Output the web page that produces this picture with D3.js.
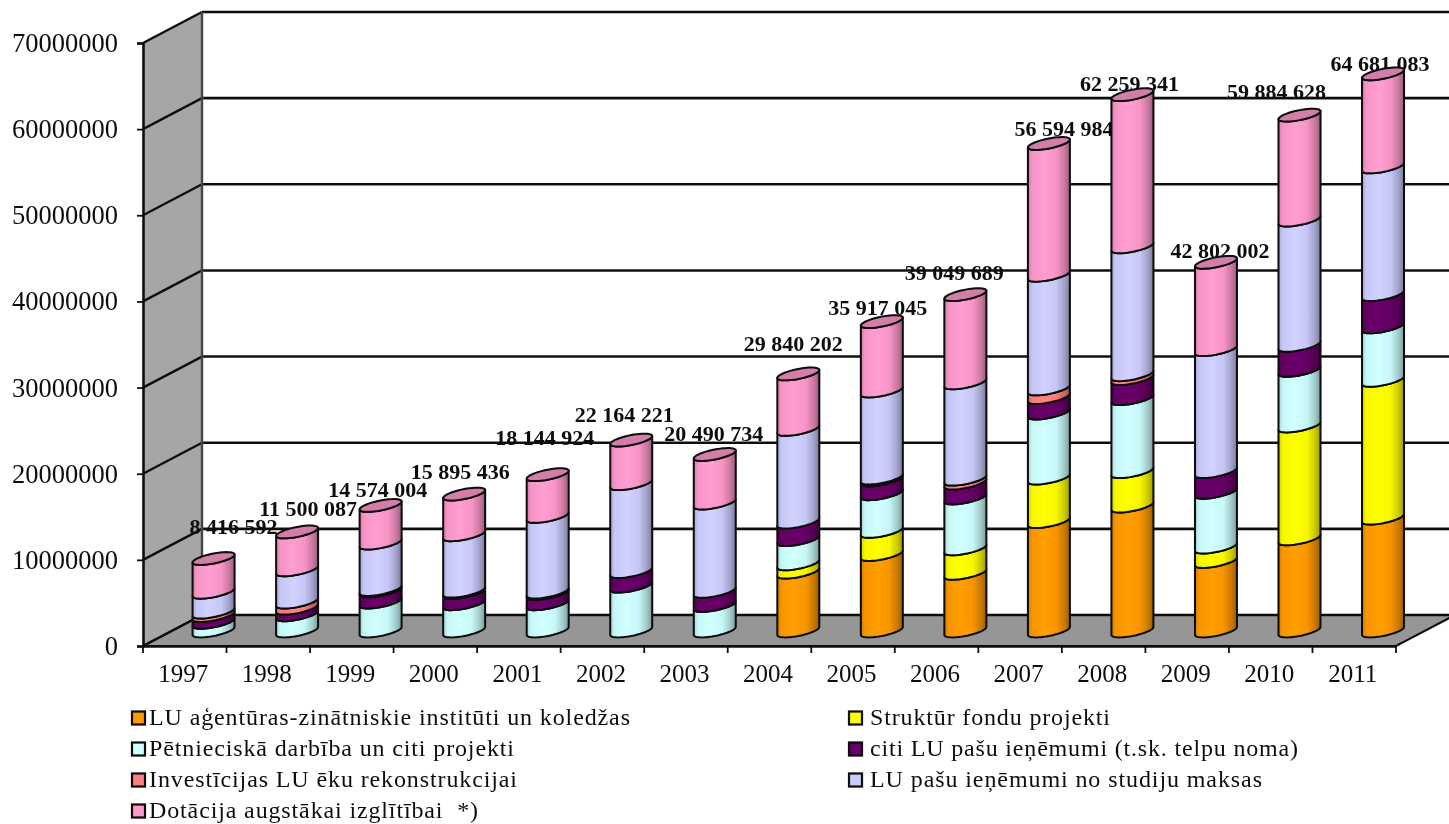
<!DOCTYPE html>
<html><head><meta charset="utf-8">
<script src="https://cdn.jsdelivr.net/npm/d3@7/dist/d3.min.js"></script>
<style>html,body{margin:0;padding:0;background:#fff;overflow:hidden}svg{display:block}text{font-family:"Liberation Serif","Times New Roman",serif;fill:#111}</style>
</head><body><div id="chart"></div>
<script>
const years=["1997","1998","1999","2000","2001","2002","2003","2004","2005","2006","2007","2008","2009","2010","2011"];
const seriesNames=["LU aģentūras-zinātniskie institūti un koledžas","Struktūr fondu projekti","Pētnieciskā darbība un citi projekti","citi LU pašu ieņēmumi (t.sk. telpu noma)","Investīcijas LU ēku rekonstrukcijai","LU pašu ieņēmumi no studiju maksas","Dotācija augstākai izglītībai  *)"];
const seriesColors=["#ff9900","#ffff00","#ccffff","#660066","#ff8080","#ccccff","#ff99cc"];
const agentures=[0,0,0,0,0,0,0,6830000,8880000,6700000,12700000,14500000,8070000,10700000,13100000];
const struktur=[0,0,0,0,0,0,0,970000,2680000,2840000,5050000,4000000,1670000,13100000,16000000];
const petnieciska=[1000000,1880000,3350000,3160000,3160000,5200000,2960000,2800000,4370000,5900000,7550000,8470000,6360000,6450000,6200000];
const citi=[800000,770000,1300000,1300000,1200000,1700000,1640000,2040000,1600000,1730000,1800000,2330000,2400000,2910000,3750000];
const investicijas=[400000,700000,170000,160000,160000,0,0,0,230000,450000,1000000,450000,0,0,0];
const studiju=[2300000,3750000,5380000,6550000,8780000,10200000,10250000,10760000,10100000,11180000,13200000,14850000,14160000,14540000,14820000];
const dotacija=[3916592,4400087,4374004,4725436,4844924,5064221,5640734,6440202,8057045,10249689,15294984,17659341,10142002,12184628,10811083];
const totals=[8416592,11500087,14574004,15895436,18144924,22164221,20490734,29840202,35917045,39049689,56594984,62259341,42802002,59884628,64681083];
const yTicks=[0,10000000,20000000,30000000,40000000,50000000,60000000,70000000];
const valueRows=[agentures,struktur,petnieciska,citi,investicijas,studiju,dotacija];

// layout only: hand placement of total labels relative to the bar top
const labelDx=[20,11,-3,-4,-3,-7,-1,-5,-4,-11,15,-3,4,-23,-3];
const labelDy=[-31,-23,-15,-22,-37,-25,-20,-30,-14,-22,-14,-11,-11,-23,-10];

const W=1449,H=824,depthX=59,depthY=31,barW=42,tiltY=4,bulgeY=5;
const svg=d3.select("#chart").append("svg").attr("width",W).attr("height",H).attr("viewBox",`0 0 ${W} ${H}`);
const x=d3.scaleBand().domain(years).range([143,1396]);
const y=d3.scaleLinear().domain([0,70000000]).range([646,43]);
const barCx=d=>x(d)+x.bandwidth()/2+28.8;
const barY=v=>y(v)-15;

// gradients
const defs=svg.append("defs");
seriesColors.forEach((c,i)=>{
  const g=defs.append("linearGradient").attr("id","g"+i);
  const base=d3.rgb(c);
  const shade=f=>d3.rgb(Math.min(255,base.r*f),Math.min(255,base.g*f),Math.min(255,base.b*f)).formatHex();
  [[0,.82],[.1,.97],[.4,1.03],[.68,.97],[.88,.78],[1,.6]].forEach(([o,f])=>g.append("stop").attr("offset",o).attr("stop-color",shade(f)));
});
const blur=defs.append("filter").attr("id","soft").attr("filterUnits","userSpaceOnUse").attr("x",0).attr("y",0).attr("width",W).attr("height",H);
blur.append("feGaussianBlur").attr("stdDeviation",0.6);
const root=svg.append("g").attr("filter","url(#soft)");

// walls + floor
const yBack=v=>y(v)-depthY;
root.append("path").attr("fill","#a6a6a6").attr("d",`M143,${y(0)}L143,${y(70000000)}L${143+depthX},${yBack(70000000)}L${143+depthX},${yBack(0)}Z`);
root.append("path").attr("fill","#969696").attr("stroke","#111").attr("stroke-width",2.2)
  .attr("d",`M143,${y(0)}L${143+depthX},${yBack(0)}L${1396+depthX},${yBack(0)}L1396,${y(0)}Z`);

// total labels sit behind gridlines and bars
root.append("g").selectAll("text").data(years).join("text")
  .attr("x",(d,i)=>barCx(d)+labelDx[i]).attr("y",(d,i)=>barY(totals[i])+labelDy[i]+7)
  .attr("text-anchor","middle").attr("font-size",22).attr("font-weight","bold")
  .text((d,i)=>d3.format(",")(totals[i]).replace(/,/g," "));

// gridlines on back wall and side wall
const grid=root.append("g");
grid.selectAll("line.b").data(yTicks).join("line").attr("class","b")
  .attr("x1",143+depthX).attr("x2",W+10).attr("y1",d=>yBack(d)).attr("y2",d=>yBack(d))
  .attr("stroke","#111").attr("stroke-width",2.6);
grid.selectAll("line.s").data(yTicks).join("line").attr("class","s")
  .attr("x1",143).attr("x2",143+depthX).attr("y1",d=>y(d)).attr("y2",d=>yBack(d))
  .attr("stroke","#111").attr("stroke-width",2.4);
grid.append("line").attr("x1",143+depthX).attr("x2",143+depthX).attr("y1",yBack(70000000)).attr("y2",yBack(0)).attr("stroke","#444").attr("stroke-width",2.4);

// axes
const yAxis=d3.axisLeft(y).tickValues(yTicks).tickSize(6).tickPadding(19).tickFormat(d3.format("d"));
const ya=root.append("g").attr("transform","translate(143,0)").call(yAxis);
ya.selectAll("path").attr("stroke","#111").attr("stroke-width",2.6);
ya.selectAll("line").attr("stroke","#111").attr("stroke-width",1.8);
ya.selectAll("text").attr("font-size",26.5).attr("font-family",'"Liberation Serif"').attr("fill","#111");

const xAxis=d3.axisBottom(x).tickSize(0).tickPadding(18);
const xa=root.append("g").attr("transform",`translate(0,${y(0)})`).call(xAxis);
xa.selectAll("path").attr("stroke","#111").attr("stroke-width",2.6);
xa.selectAll("text").attr("font-size",25).attr("font-family",'"Liberation Serif"').attr("fill","#111").attr("dx",-1.5);
xa.append("g").selectAll("line").data(d3.range(years.length+1)).join("line")
  .attr("x1",i=>143+i*x.step()).attr("x2",i=>143+i*x.step()).attr("y1",0).attr("y2",7)
  .attr("stroke","#111").attr("stroke-width",1.8);

// cylinders
const arcPts=(cx,yc,from,to)=>d3.range(0,25).map(k=>{
  const t=from+(to-from)*k/24;
  return [cx+barW/2*Math.cos(t),yc-tiltY*Math.cos(t)+bulgeY*Math.sin(t)];
});
const line=d3.line();
const barsG=root.append("g");
years.forEach((yr,i)=>{
  const cx=barCx(yr);
  const g=barsG.append("g");
  let cum=0,lastTop=0;
  valueRows.forEach((row,s)=>{
    const v=row[i];
    if(v<=0)return;
    const y0=barY(cum),y1=barY(cum+v);
    cum+=v;lastTop=y1;
    const bottom=arcPts(cx,y0,Math.PI,0);
    const top=arcPts(cx,y1,0,Math.PI);
    g.append("path").attr("d",line(bottom.concat(top))+"Z")
      .attr("fill",`url(#g${s})`).attr("stroke","#0a0a0a").attr("stroke-width",2).attr("stroke-linejoin","round");
  });
  const topSeries=valueRows.length-1;
  const ring=arcPts(cx,lastTop,0,Math.PI).concat(arcPts(cx,lastTop,Math.PI,2*Math.PI));
  g.append("path").attr("d",line(ring)+"Z").attr("fill",d3.rgb(seriesColors[topSeries]).darker(0.55).formatHex())
    .attr("stroke","#0a0a0a").attr("stroke-width",2);
});

// legend
const legendX=[[131,149],[848,870]];
const legendRows=[718,749,780,811];
const legendSlots=[[0,0],[1,0],[0,1],[1,1],[0,2],[1,2],[0,3]];
const legendLen=[481,240,365,428,368,392,329];
const lg=root.append("g");
seriesNames.forEach((n,i)=>{
  const [c,r]=legendSlots[i];
  lg.append("rect").attr("x",legendX[c][0]+1).attr("y",legendRows[r]-6.5).attr("width",13).attr("height",13)
    .attr("fill",seriesColors[i]).attr("stroke","#0a0a0a").attr("stroke-width",2.2);
  lg.append("text").attr("x",legendX[c][1]).attr("y",legendRows[r]+7).attr("font-size",24)
    .attr("textLength",legendLen[i]).attr("lengthAdjust","spacing").style("white-space","pre").text(n);
});
</script></body></html>
